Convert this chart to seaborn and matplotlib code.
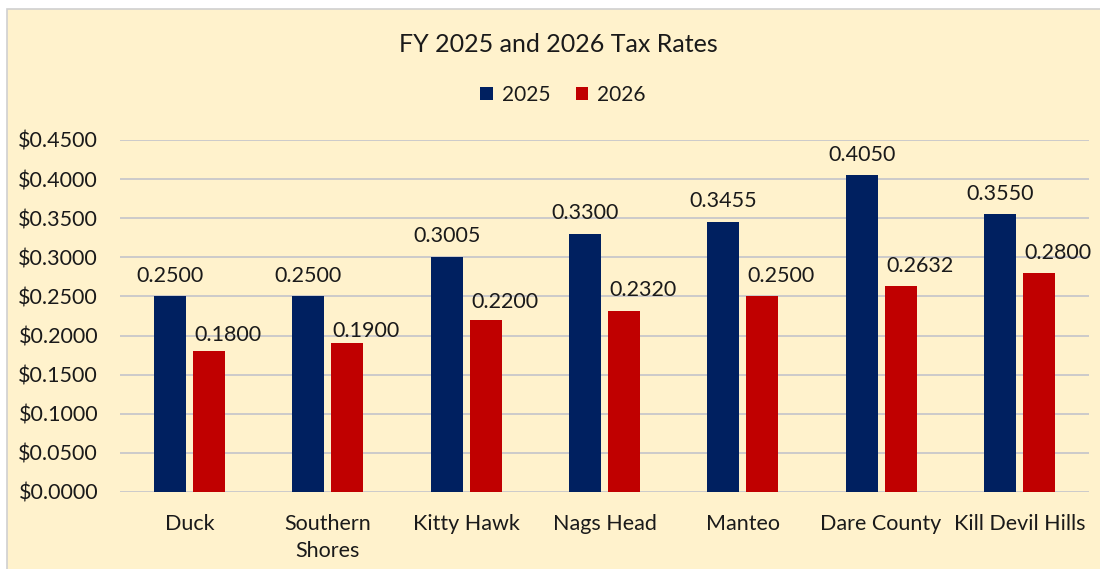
import matplotlib
matplotlib.use("Agg")
import matplotlib.pyplot as plt
import matplotlib.patches as mpatches
import seaborn as sns
import pandas as pd
from matplotlib.ticker import FuncFormatter

towns = ["Duck", "Southern\nShores", "Kitty Hawk", "Nags Head", "Manteo", "Dare County", "Kill Devil Hills"]
years = ["2025", "2026"]
rates_2025 = [0.2500, 0.2500, 0.3005, 0.3300, 0.3455, 0.4050, 0.3550]
rates_2026 = [0.1800, 0.1900, 0.2200, 0.2320, 0.2500, 0.2632, 0.2800]
title = "FY 2025 and 2026 Tax Rates"

# label lift (points) for the 2026 labels, as placed in the original
lift_2026 = [7.0, 4.8, 8.8, 10.6, 10.6, 10.4, 10.4]

df = pd.DataFrame({
    "Town": towns * 2,
    "Year": [years[0]] * len(towns) + [years[1]] * len(towns),
    "Rate": rates_2025 + rates_2026,
})

sns.set_theme(style="white")
plt.rcParams["font.family"] = ["Lato", "DejaVu Sans"]

BG = "#FFF2CC"
NAVY = "#002060"
RED = "#C00000"
TXT = "#1a1a1a"
FS = 15.5

fig = plt.figure(figsize=(11, 5.69), dpi=100)
fig.patch.set_facecolor("white")
# chart area with border
fig.patches.append(mpatches.Rectangle((7 / 1100, -0.01), 1.0, 1.01 - 9 / 569, transform=fig.transFigure,
                                      facecolor=BG, edgecolor="#D0D0D0", linewidth=1.2, zorder=-10))

ax = fig.add_axes([120.3 / 1100, 1 - 492 / 569, (1088.6 - 120.3) / 1100, (492 - 140) / 569])
ax.set_facecolor(BG)

sns.barplot(data=df, x="Town", y="Rate", hue="Year", palette=[NAVY, RED],
            width=0.564, gap=0.18, ax=ax, saturation=1, errorbar=None, zorder=3,
            linewidth=0, edgecolor="none")

ax.set_ylim(0, 0.45)
ax.set_yticks([i * 0.05 for i in range(10)])
ax.yaxis.set_major_formatter(FuncFormatter(lambda v, p: f"${v:.4f}"))
ax.grid(axis="y", color="#C4C4CA", linewidth=1.2, zorder=0)
ax.set_axisbelow(True)
for s in ax.spines.values():
    s.set_visible(False)
ax.tick_params(axis="y", length=0, pad=16, labelsize=FS, labelcolor=TXT)
ax.tick_params(axis="x", length=0, pad=16, labelsize=FS, labelcolor=TXT)
ax.set_xlabel("")
ax.set_ylabel("")
for lbl in ax.get_xticklabels():
    lbl.set_linespacing(1.42)

# value labels
for bar in ax.containers[0]:
    h = bar.get_height()
    ax.annotate(f"{h:.4f}", (bar.get_x() + bar.get_width() / 2, h), xytext=(0, 10.5),
                textcoords="offset points", ha="center", va="baseline", fontsize=FS, color=TXT)
for bar, lift in zip(ax.containers[1], lift_2026):
    h = bar.get_height()
    ax.annotate(f"{h:.4f}", (bar.get_x(), h), xytext=(1.0, lift),
                textcoords="offset points", ha="left", va="baseline", fontsize=FS, color=TXT)

handles, labels = ax.get_legend_handles_labels()
if ax.get_legend() is not None:
    ax.get_legend().remove()
fig.legend(handles, labels, loc="center", bbox_to_anchor=(563 / 1100, 1 - 95 / 569), ncol=2,
           frameon=False, fontsize=15, handlelength=0.6, handleheight=0.6, handletextpad=0.45,
           columnspacing=1.2, labelcolor=TXT)

fig.text(558 / 1100, 1 - 45 / 569, title, ha="center", va="center", fontsize=18, color=TXT)

fig.savefig("out.png", dpi=100, facecolor=fig.get_facecolor())
